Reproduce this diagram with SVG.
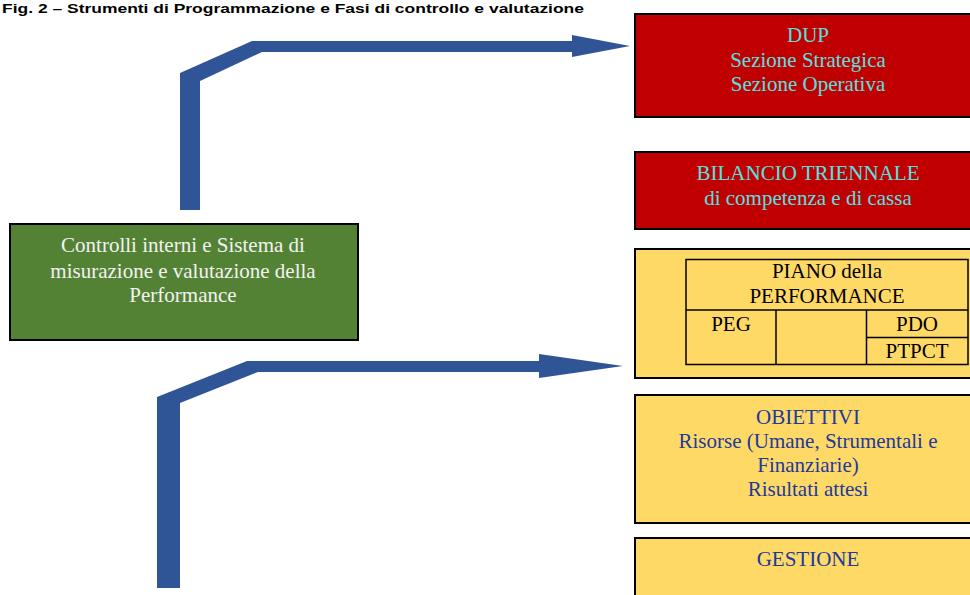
<svg xmlns="http://www.w3.org/2000/svg" width="970" height="595" viewBox="0 0 970 595">
<style>
.box{stroke:#000;stroke-width:2}
.red{fill:#C00000}
.yel{fill:#FFD966}
.grn{fill:#548235}
.t{font-family:"Liberation Serif","Times New Roman",serif;font-size:21px;text-anchor:middle}
.cy{fill:#55E0E0}
.bl{fill:#203A9C}
.bk{fill:#000}
.wh{fill:#F2F2F2}
.cell{fill:none;stroke:#000;stroke-width:1.5}
.arrow{fill:#2F5597}
</style>
<rect width="970" height="595" fill="#fff"/>
<text x="2" y="12.5" font-family="Liberation Sans, Arial, sans-serif" font-size="13.5" font-weight="bold" fill="#000" textLength="582" lengthAdjust="spacingAndGlyphs">Fig. 2 – Strumenti di Programmazione e Fasi di controllo e valutazione</text>
<g id="connectors">
<polygon class="arrow" points="180,210 180,73 252,41 572,41 572,35 630,46 572,57 572,52 262,52 200,81 200,210"/>
<polygon class="arrow" points="157,588 157,397 247,361 539,361 539,354 623,366 539,378 539,372 258,372 180,403 180,588"/>
</g>
<g id="dup">
<rect class="box red" x="635" y="14" width="345" height="103"/>
<text class="t cy" x="808" y="42">DUP</text>
<text class="t cy" x="808" y="67">Sezione Strategica</text>
<text class="t cy" x="808" y="91">Sezione Operativa</text>
</g>
<g id="bilancio">
<rect class="box red" x="635" y="152" width="345" height="77"/>
<text class="t cy" x="808" y="180">BILANCIO TRIENNALE</text>
<text class="t cy" x="808" y="205">di competenza e di cassa</text>
</g>
<g id="piano">
<rect class="box yel" x="635" y="249" width="345" height="129"/>
<rect class="cell" x="686" y="259.5" width="282" height="105"/>
<line class="cell" x1="686" y1="310" x2="968" y2="310"/>
<line class="cell" x1="776" y1="310" x2="776" y2="364.5"/>
<line class="cell" x1="866.5" y1="310" x2="866.5" y2="364.5"/>
<line class="cell" x1="866.5" y1="337.5" x2="968" y2="337.5"/>
<text class="t bk" x="827" y="278">PIANO della</text>
<text class="t bk" x="827" y="303">PERFORMANCE</text>
<text class="t bk" x="731" y="331">PEG</text>
<text class="t bk" x="917" y="331">PDO</text>
<text class="t bk" x="917" y="358">PTPCT</text>
</g>
<g id="obiettivi">
<rect class="box yel" x="635" y="395" width="345" height="128"/>
<text class="t bl" x="808" y="424">OBIETTIVI</text>
<text class="t bl" x="808" y="448">Risorse (Umane, Strumentali e</text>
<text class="t bl" x="808" y="472">Finanziarie)</text>
<text class="t bl" x="808" y="496">Risultati attesi</text>
</g>
<g id="gestione">
<rect class="box yel" x="635" y="538" width="345" height="80"/>
<text class="t bl" x="808" y="566">GESTIONE</text>
</g>
<g id="controlli">
<rect class="box grn" x="10" y="224" width="348" height="116"/>
<text class="t wh" x="183" y="252">Controlli interni e Sistema di</text>
<text class="t wh" x="183" y="278">misurazione e valutazione della</text>
<text class="t wh" x="183" y="302">Performance</text>
</g>
</svg>
